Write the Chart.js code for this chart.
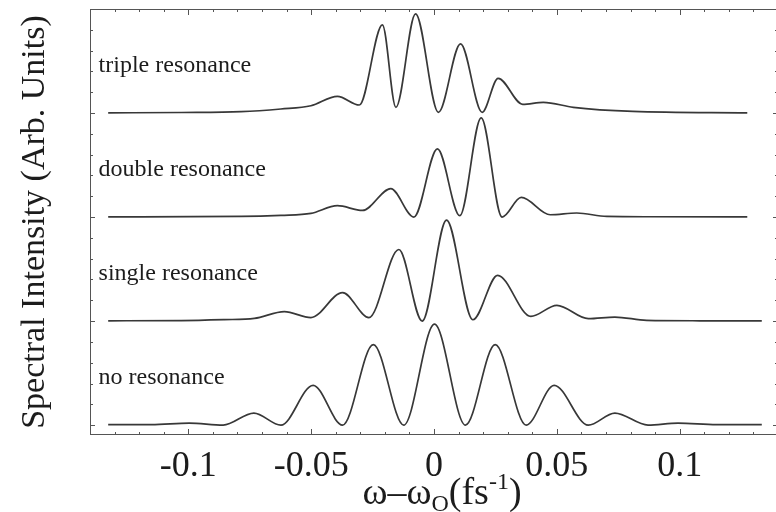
<!DOCTYPE html>
<html>
<head>
<meta charset="utf-8">
<script src="https://cdn.jsdelivr.net/npm/chart.js@4/dist/chart.umd.min.js"></script>
<style>
  html, body { margin: 0; padding: 0; background: #fff; overflow: hidden; }
  #wrap { width: 776px; height: 512px; overflow: hidden; }
</style>
</head>
<body>
<div id="wrap"><canvas id="chart" width="780" height="512"></canvas></div>
<script>
// stacked spectra, values (arb. units, each curve on its own baseline)
const seriesNames = ['no resonance', 'single resonance', 'double resonance', 'triple resonance'];
const offsets = [0, 1, 2, 3];
const xTickLabels = [-0.1, -0.05, 0, 0.05, 0.1];

const noResX = [-0.1326, -0.115, -0.0996, -0.0858, -0.0733, -0.0623, -0.0492, -0.0372, -0.0247, -0.0123, 0.0002,
                0.0128, 0.0249, 0.0375, 0.0489, 0.0628, 0.0736, 0.0871, 0.0993, 0.115, 0.1334];
const noResY = [0.005, 0.005, 0.02, 0, 0.116, 0, 0.382, 0, 0.774, 0, 0.97,
                0, 0.774, 0, 0.382, 0, 0.116, 0, 0.02, 0.005, 0.005];

const singleX = [-0.1326, -0.1028, -0.0854, -0.0731, -0.0609, -0.0501, -0.0372, -0.0265, -0.0143, -0.0048, 0.0051,
                 0.0158, 0.0259, 0.0394, 0.05, 0.0628, 0.0736, 0.0865, 0.1081, 0.1334];
const singleY = [0.003, 0.005, 0.014, 0.026, 0.091, 0.033, 0.274, 0.033, 0.688, 0, 0.97,
                 0.013, 0.44, 0.045, 0.151, 0.023, 0.039, 0.007, 0.003, 0.002];

const doubleX = [-0.1326, -0.0785, -0.0623, -0.0501, -0.0393, -0.0291, -0.0176, -0.0082, 0.0014, 0.0105, 0.0192,
                 0.0277, 0.0355, 0.0473, 0.0581, 0.0703, 0.0878, 0.1275];
const doubleY = [0.002, 0.006, 0.017, 0.035, 0.109, 0.064, 0.273, 0, 0.655, 0.013, 0.954,
                 0, 0.189, 0.022, 0.039, 0.006, 0.003, 0.002];

const tripleX = [-0.1326, -0.1028, -0.0785, -0.0623, -0.0501, -0.0393, -0.0304, -0.021, -0.0155, -0.0075, 0.0018,
                 0.0108, 0.0196, 0.0261, 0.0361, 0.0445, 0.0567, 0.0809, 0.1275];
const tripleY = [0.002, 0.005, 0.013, 0.039, 0.07, 0.161, 0.077, 0.848, 0.055, 0.954, 0.007,
                 0.665, 0.007, 0.334, 0.084, 0.103, 0.055, 0.016, 0.002];

const allX = [noResX, singleX, doubleX, tripleX];
const allY = [noResY, singleY, doubleY, tripleY];

const SERIF = "'Liberation Serif', 'Times New Roman', serif";
const INK = '#1c1c1c';

const datasets = seriesNames.map((name, i) => ({
  label: name,
  data: allX[i].map((x, k) => ({ x: x, y: allY[i][k] + offsets[i] })),
  borderColor: '#383838',
  borderWidth: 1.7,
  pointRadius: 0,
  fill: false,
  cubicInterpolationMode: 'monotone'
}));

// frame with inward tick marks on all four sides
const framePlugin = {
  id: 'frame',
  afterDraw(chart) {
    const { ctx, chartArea: a, scales: { x, y } } = chart;
    ctx.save();
    ctx.strokeStyle = '#555';
    ctx.lineWidth = 1;
    ctx.strokeRect(a.left + 0.5, a.top + 0.5, a.right - a.left - 1, a.bottom - a.top - 1);
    ctx.beginPath();
    for (let i = -14; i <= 14; i++) {
      const px = Math.round(x.getPixelForValue(i / 100)) + 0.5;
      const len = i % 5 === 0 ? 6 : 3;
      ctx.moveTo(px, a.bottom); ctx.lineTo(px, a.bottom - len);
      ctx.moveTo(px, a.top); ctx.lineTo(px, a.top + len);
    }
    for (let j = 0; j <= 20; j++) {
      const py = Math.round(y.getPixelForValue(j / 5)) + 0.5;
      const len = j % 5 === 0 ? 5 : 3;
      ctx.moveTo(a.left, py); ctx.lineTo(a.left + len, py);
      ctx.moveTo(a.right, py); ctx.lineTo(a.right - len, py);
    }
    ctx.stroke();
    ctx.restore();
  }
};

// curve names and the x-axis title (with sub/superscript)
const textPlugin = {
  id: 'texts',
  afterDraw(chart) {
    const { ctx, scales: { x, y } } = chart;
    ctx.save();
    ctx.fillStyle = INK;
    ctx.textBaseline = 'alphabetic';
    ctx.textAlign = 'left';
    ctx.font = '24px ' + SERIF;
    seriesNames.forEach((name, i) => {
      ctx.fillText(name, x.getPixelForValue(-0.1365), y.getPixelForValue(offsets[i] + 0.395));
    });

    const parts = [
      { t: 'ω–ω', size: 38, dy: 0 },
      { t: 'O', size: 24, dy: 7 },
      { t: '(fs', size: 38, dy: 0 },
      { t: '-1', size: 24, dy: -15 },
      { t: ')', size: 38, dy: 0 }
    ];
    let total = 0;
    parts.forEach(p => {
      ctx.font = p.size + 'px ' + SERIF;
      p.w = ctx.measureText(p.t).width;
      total += p.w;
    });
    let cx = 442 - total / 2;
    const base = 504;
    parts.forEach(p => {
      ctx.font = p.size + 'px ' + SERIF;
      ctx.fillText(p.t, cx, base + p.dy);
      cx += p.w;
    });
    ctx.restore();
  }
};

new Chart(document.getElementById('chart'), {
  type: 'line',
  data: { datasets: datasets },
  options: {
    responsive: false,
    animation: false,
    devicePixelRatio: 1,
    layout: { padding: { top: 9, right: 2, left: 0, bottom: 0 } },
    plugins: { legend: { display: false }, tooltip: { enabled: false } },
    scales: {
      x: {
        type: 'linear',
        min: -0.14,
        max: 0.14,
        afterBuildTicks: scale => { scale.ticks = xTickLabels.map(v => ({ value: v })); },
        afterFit: scale => { scale.height = 77; },
        ticks: {
          autoSkip: false,
          maxRotation: 0,
          padding: 10,
          color: INK,
          font: { family: SERIF, size: 36 },
          callback: v => String(v)
        },
        grid: { drawOnChartArea: false, drawTicks: false },
        border: { display: false }
      },
      y: {
        min: -0.095,
        max: 4.0,
        afterFit: scale => { scale.width = 90; },
        ticks: { display: false },
        grid: { drawOnChartArea: false, drawTicks: false },
        border: { display: false },
        title: {
          display: true,
          text: 'Spectral Intensity (Arb. Units)',
          color: INK,
          font: { family: SERIF, size: 34 },
          padding: { top: 15, bottom: 0 }
        }
      }
    }
  },
  plugins: [framePlugin, textPlugin]
});
</script>
</body>
</html>
